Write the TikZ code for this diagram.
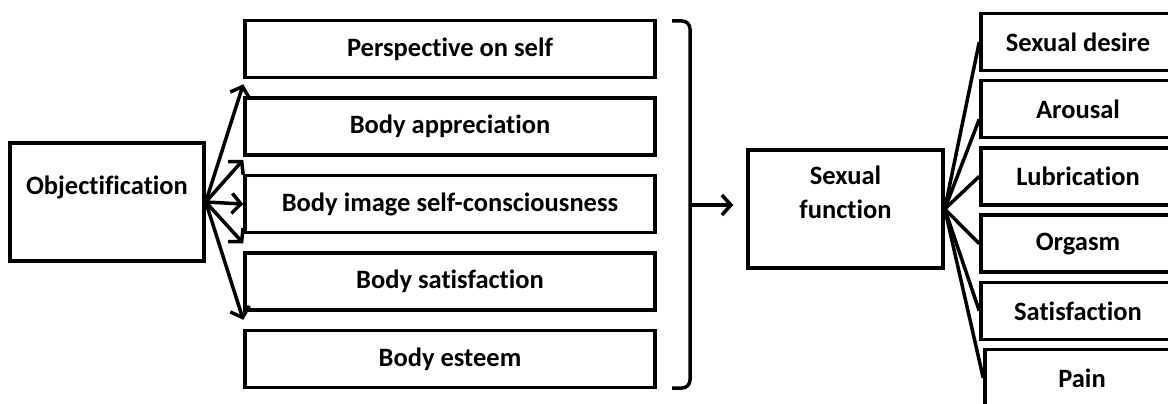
\documentclass[tikz,border=0pt]{standalone}
\usepackage{fontspec}
\setmainfont{Carlito}[Ligatures={NoCommon}]
\usetikzlibrary{arrows.meta, positioning}
\tikzstyle{mainbox} = [
    rectangle,
    align=center,
    line width=3.5pt,
    draw=black,
    font=\bfseries\fontsize{26.5}{34}\selectfont
]
\tikzstyle{factor} = [
    rectangle,
    minimum width=410pt,
    minimum height=57pt,
    line width=3.5pt,
    draw=black,
    font=\bfseries\fontsize{26.5}{34}\selectfont
]
\tikzstyle{outcome} = [
    rectangle,
    minimum width=194pt,
    minimum height=57pt,
    line width=3.5pt,
    draw=black,
    font=\bfseries\fontsize{26.5}{34}\selectfont
]
\tikzstyle{arrow} = [line width=3.5pt,-{Straight Barb[length=9pt,width=20pt]}]
\tikzstyle{link} = [line width=3.5pt]

\begin{document}
\begin{tikzpicture}[x=1pt, y=-1pt]
\useasboundingbox (0,0) rectangle (1168,404);

\node (objectification) [mainbox, minimum width=194pt, minimum height=118pt] at (107,202)
{Objectification\\\mbox{}};

\node (perspective) [factor] at (450,49)
{Perspective on self};

\node (appreciation) [factor, below of=perspective, node distance=77.5pt]
{Body appreciation};

\node (consciousness) [factor, below of=appreciation, node distance=77.5pt]
{Body image self-consciousness};

\node (satisfaction) [factor, below of=consciousness, node distance=77.5pt]
{Body satisfaction};

\node (esteem) [factor, below of=satisfaction, node distance=77.5pt]
{Body esteem};

\node (sexfunction) [mainbox, minimum width=195pt, minimum height=118pt] at (845.5,209)
{Sexual\\function\\\mbox{}};

\node (desire) [outcome] at (1078,42)
{Sexual desire};

\node (arousal) [outcome, below of=desire, node distance=67.2pt]
{Arousal};

\node (lubrication) [outcome, below of=arousal, node distance=67.2pt]
{Lubrication};

\node (orgasm) [outcome, below of=lubrication, node distance=67.2pt]
{Orgasm};

\node (sexsatisfaction) [outcome, below of=orgasm, node distance=67.2pt]
{Satisfaction};

\node (pain) [outcome, below of=sexsatisfaction, node distance=67.2pt, xshift=4pt]
{Pain};

% brace round the five factors
\draw [link, rounded corners=8pt] (672,21) -- (690,21) -- (690,388) -- (672,388);
\coordinate (bracetip) at (690,205);

\draw [arrow] (objectification.east) -- ([yshift=-5pt]perspective.south west);
\draw [arrow] (objectification.east) -- ([yshift=-3pt]appreciation.south west);
\draw [arrow] (objectification.east) -- (consciousness.west);
\draw [arrow] (objectification.east) -- ([yshift=8pt]satisfaction.north west);
\draw [arrow] (objectification.east) -- ([yshift=-8pt]satisfaction.south west);

\draw [arrow, shorten >=13pt] (bracetip) -- (bracetip -| sexfunction.west);

\draw [link] (sexfunction.east) -- (desire.west);
\draw [link] (sexfunction.east) -- ([yshift=-10pt]arousal.west);
\draw [link] (sexfunction.east) -- (lubrication.west);
\draw [link] (sexfunction.east) -- (orgasm.west);
\draw [link] (sexfunction.east) -- (sexsatisfaction.west);
\draw [link] (sexfunction.east) -- (pain.west);

\end{tikzpicture}
\end{document}
